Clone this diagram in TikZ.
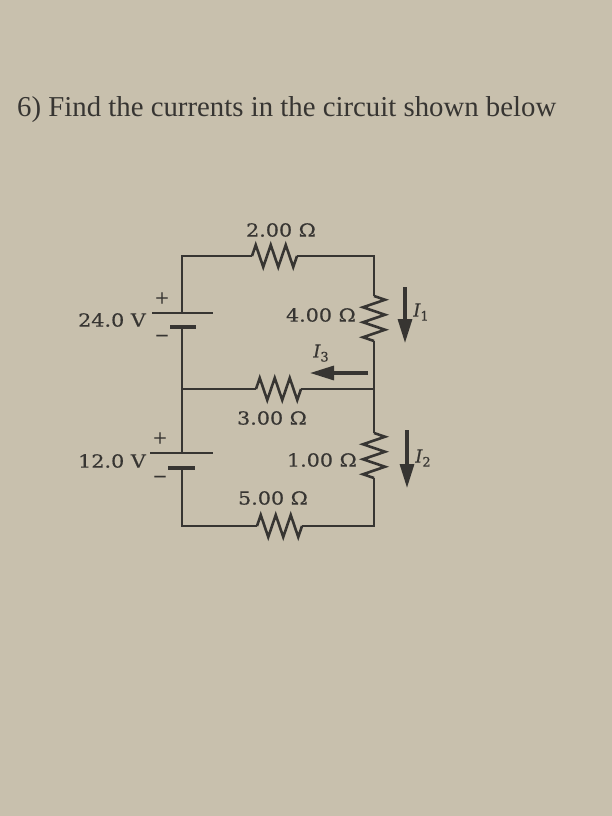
\documentclass[tikz,border=0pt]{standalone}
\usepackage{fontspec}
\setmainfont{Liberation Serif}
\newfontfamily\circfont[FakeBold=0.4]{DejaVu Serif}
\usetikzlibrary{decorations.pathmorphing,arrows.meta}
\definecolor{paper}{RGB}{200,192,173}
\definecolor{ink}{RGB}{55,53,50}
\newcommand{\widetxt}[1]{\scalebox{1.15}[1]{#1}}
\newcommand{\curlbl}[1]{\itshape I\raisebox{-4pt}{\fontsize{13}{13}\selectfont\upshape #1}}
\begin{document}
\begin{tikzpicture}[x=1pt,y=-1pt,
  wire/.style={line width=2.6pt, draw=ink, line join=miter},
  res/.style={line width=2.6pt, draw=ink, line join=miter, decorate,
    decoration={zigzag, segment length=15pt, amplitude=11pt}},
  longplate/.style={line width=2.8pt, draw=ink},
  shortplate/.style={line width=3.6pt, draw=ink},
  curarrow/.style={line width=3.2pt, draw=ink, -{Triangle[length=24pt,width=14pt]}},
  lbl/.style={inner sep=0pt, text=ink, font=\circfont\fontsize{18}{20}\selectfont},
  title/.style={inner sep=0pt, text=ink, font=\fontsize{28.8}{32}\selectfont}]
\fill[paper] (0,0) rectangle (612,816);
\useasboundingbox (0,0) rectangle (612,816);

\node[title, anchor=base west] (q) at (17,116) {6) Find the currents in the circuit shown below};

% corners
\coordinate (TL) at (182,256);
\coordinate (TR) at (374,256);
\coordinate (ML) at (182,389);
\coordinate (MR) at (374,389);
\coordinate (BL) at (182,526);
\coordinate (BR) at (374,526);
% batteries
\coordinate (B1p) at (182,313);
\coordinate (B1n) at (182,327);
\coordinate (B2p) at (182,453);
\coordinate (B2n) at (182,468);
% resistors
\coordinate (R2a) at (252,256);
\coordinate (R2b) at (297,256);
\coordinate (R4a) at (374,296);
\coordinate (R4b) at (374,341);
\coordinate (R3a) at (256,389);
\coordinate (R3b) at (301,389);
\coordinate (R1a) at (374,433);
\coordinate (R1b) at (374,478);
\coordinate (R5a) at (257,526);
\coordinate (R5b) at (302,526);
% arrows
\coordinate (A1s) at (405,287);
\coordinate (A1e) at (405,343);
\coordinate (A2s) at (407,430);
\coordinate (A2e) at (407,488);
\coordinate (A3s) at (368,373);
\coordinate (A3e) at (310,373);

% wires
\draw[wire] (B1p) -- (TL) -- (R2a);
\draw[res] (R2a) -- (R2b);
\draw[wire] (R2b) -- (TR) -- (R4a);
\draw[res] (R4a) -- (R4b);
\draw[wire] (R4b) -- (MR) -- (R1a);
\draw[res] (R1a) -- (R1b);
\draw[wire] (R1b) -- (BR) -- (R5b);
\draw[res] (R5b) -- (R5a);
\draw[wire] (R5a) -- (BL) -- (B2n);
\draw[wire] (B2p) -- (ML) -- (B1n);
\draw[wire] (ML) -- (R3a);
\draw[res] (R3a) -- (R3b);
\draw[wire] (R3b) -- (MR);

% battery plates
\draw[longplate] ([xshift=-30pt]B1p) -- ([xshift=31pt]B1p);
\draw[shortplate] ([xshift=-12pt]B1n) -- ([xshift=14pt]B1n);
\draw[longplate] ([xshift=-32pt]B2p) -- ([xshift=31pt]B2p);
\draw[shortplate] ([xshift=-14pt]B2n) -- ([xshift=13pt]B2n);

% current arrows
\draw[curarrow] (A1s) -- (A1e);
\draw[curarrow] (A2s) -- (A2e);
\draw[curarrow] (A3s) -- (A3e);

% labels
\node[lbl] (l2) at (281,230) {\widetxt{2.00 Ω}};
\node[lbl, anchor=east] (l24) at (146,320) {\widetxt{24.0 V}};
\node[lbl] (p1) at (162,298) {+};
\node[lbl] (m1) at (162,338) {−};
\node[lbl, anchor=east] (l4) at (356,315) {\widetxt{4.00 Ω}};
\node[lbl] (i3) at (321,353) {\curlbl{3}};
\node[lbl] (l3) at (272,418) {\widetxt{3.00 Ω}};
\node[lbl, anchor=east] (l12) at (146,461) {\widetxt{12.0 V}};
\node[lbl] (p2) at (160,438) {+};
\node[lbl] (m2) at (160,479) {−};
\node[lbl, anchor=east] (l1) at (357,460) {\widetxt{1.00 Ω}};
\node[lbl] (l5) at (273,498) {\widetxt{5.00 Ω}};
\node[lbl] (i1) at (421,312) {\curlbl{1}};
\node[lbl] (i2) at (423,458) {\curlbl{2}};
\end{tikzpicture}
\end{document}
